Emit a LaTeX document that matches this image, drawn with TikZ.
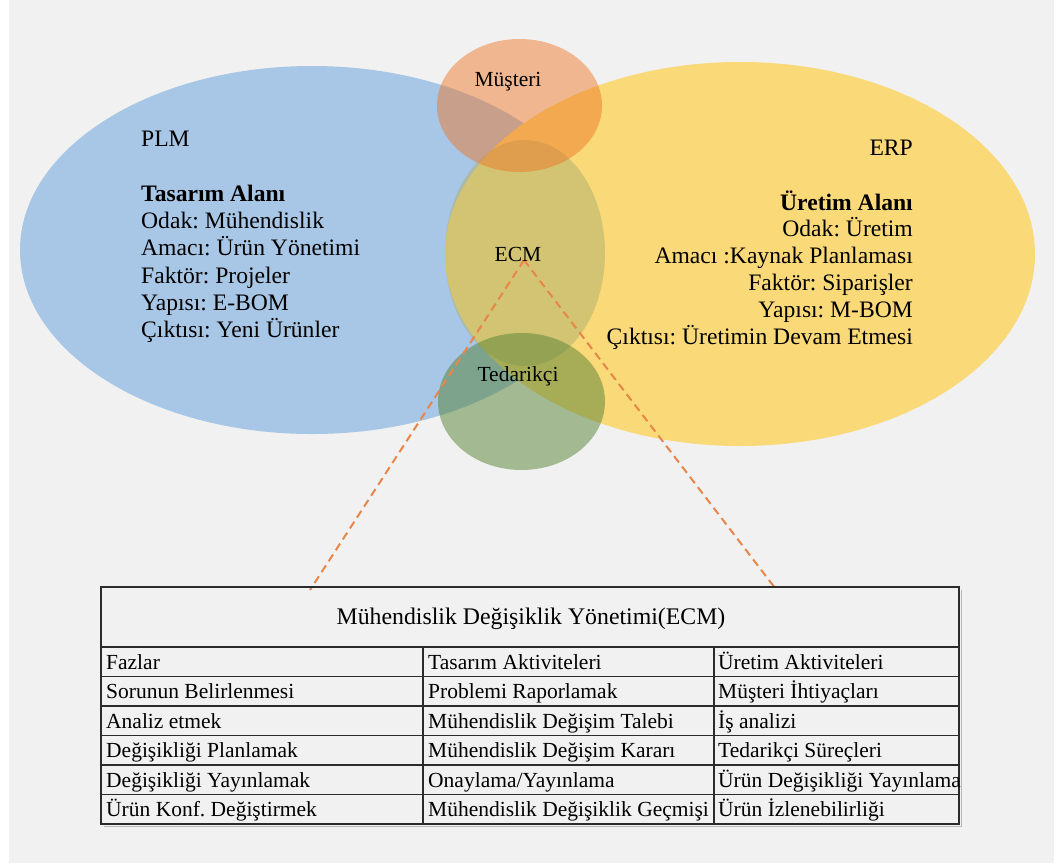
\documentclass[tikz,border=0pt]{standalone}
\usepackage{fontspec}
\setmainfont{Liberation Serif}
\usetikzlibrary{shapes.geometric}
\frenchspacing
\definecolor{pagegray}{HTML}{F1F1F1}
\definecolor{plmblue}{HTML}{A8C6E5}
\definecolor{erpyellow}{HTML}{F9D978}
\definecolor{ecmolive}{RGB}{175,177,111}
\definecolor{custorange}{RGB}{238,117,36}
\definecolor{suppgreen}{RGB}{84,130,53}
\definecolor{linkorange}{HTML}{E8864A}
\definecolor{gridline}{HTML}{2B2B2B}

\begin{document}
\begin{tikzpicture}[x=1pt,y=-1pt,
  venn/.style={ellipse, draw=none, inner sep=0pt, outer sep=0pt},
  areatext/.style={inner sep=0pt, font=\fontsize{23.6}{27}\selectfont},
  areabold/.style={inner sep=0pt, font=\fontsize{23.6}{27}\selectfont\bfseries},
  venntext/.style={inner sep=0pt, anchor=base, font=\fontsize{21.5}{26}\selectfont},
  celltext/.style={inner sep=0pt, anchor=base west, font=\fontsize{21.5}{26}\selectfont},
  titletext/.style={inner sep=0pt, anchor=base, font=\fontsize{23.8}{28}\selectfont},
  link/.style={draw=linkorange, line width=2pt, dash pattern=on 8pt off 5pt},
  rule/.style={draw=gridline, line width=1.3pt},
  frame/.style={draw=gridline, line width=1.7pt},
]
\useasboundingbox (0,0) rectangle (1057,865);
\fill[white] (0,0) rectangle (1057,865);
\fill[pagegray] (9,0) rectangle (1054,863);

% the five overlapping areas
\node[venn, fill=plmblue, minimum width=584pt, minimum height=368pt] (plm) at (312,250) {};
\node[venn, fill=erpyellow, minimum width=590pt, minimum height=384pt] (erp) at (740,254) {};
\node[venn, fill=ecmolive, fill opacity=0.5, minimum width=160pt, minimum height=226pt] (ecm) at (525,253) {};
\node[venn, fill=custorange, fill opacity=0.47, minimum width=165pt, minimum height=133pt] (cust) at (519.5,105.5) {};
\node[venn, fill=suppgreen, fill opacity=0.5, minimum width=167pt, minimum height=137pt] (supp) at (521.5,401.5) {};

% dashed lines from ECM down to the table
\coordinate (ecmtip) at (524,260);
\coordinate (tableft) at (310,590);
\coordinate (tabright) at (775,588);
\draw[link] (ecmtip) -- (tableft);
\draw[link] (ecmtip) -- (tabright);

% labels of the small areas
\node[venntext] (custlabel) at (508,86) {Müşteri};
\node[venntext] (ecmlabel) at (518,261.5) {ECM};
\node[venntext] (supplabel) at (518,381.5) {Tedarikçi};

% PLM description
\node[areatext, anchor=base west] (plm0) at (141,146.7) {PLM};
\node[areabold, anchor=base west] (plm1) at (141,201.3) {Tasarım Alanı};
\node[areatext, anchor=base west] (plm2) at (141,228.6) {Odak: Mühendislik};
\node[areatext, anchor=base west] (plm3) at (141,255.9) {Amacı: Ürün Yönetimi};
\node[areatext, anchor=base west] (plm4) at (141,283.2) {Faktör: Projeler};
\node[areatext, anchor=base west] (plm5) at (141,310.5) {Yapısı: E-BOM};
\node[areatext, anchor=base west] (plm6) at (141,337.8) {Çıktısı: Yeni Ürünler};

% ERP description
\node[areatext, anchor=base east] (erp0) at (913,155) {ERP};
\node[areabold, anchor=base east] (erp1) at (913,210) {Üretim Alanı};
\node[areatext, anchor=base east] (erp2) at (913,236.8) {Odak: Üretim};
\node[areatext, anchor=base east] (erp3) at (913,263.6) {Amacı :Kaynak Planlaması};
\node[areatext, anchor=base east] (erp4) at (913,290.4) {Faktör: Siparişler};
\node[areatext, anchor=base east] (erp5) at (913,317.2) {Yapısı: M-BOM};
\node[areatext, anchor=base east] (erp6) at (913,344) {Çıktısı: Üretimin Devam Etmesi};

% ECM table: shadow, frame and rules
\draw[gray!55, line width=1pt] (961,590) -- (961,826) -- (104,826);
\draw[frame] (101,587) rectangle (959,824);
\draw[rule] (101,647) -- (959,647);
\foreach \yy in {676.5,706,735.5,765,794.5}
  \draw[rule] (101,\yy) -- (959,\yy);
\draw[rule] (423,647) -- (423,824);
\draw[rule] (714,647) -- (714,824);

\node[titletext] (tabtitle) at (531,624.3) {Mühendislik Değişiklik Yönetimi(ECM)};

\node[celltext] (c00) at (106,669) {Fazlar};
\node[celltext] (c01) at (428,669) {Tasarım Aktiviteleri};
\node[celltext] (c02) at (718,669) {Üretim Aktiviteleri};
\node[celltext] (c10) at (106,698.5) {Sorunun Belirlenmesi};
\node[celltext] (c11) at (428,698.5) {Problemi Raporlamak};
\node[celltext] (c12) at (718,698.5) {Müşteri İhtiyaçları};
\node[celltext] (c20) at (106,728) {Analiz etmek};
\node[celltext] (c21) at (428,728) {Mühendislik Değişim Talebi};
\node[celltext] (c22) at (718,728) {İş analizi};
\node[celltext] (c30) at (106,757.5) {Değişikliği Planlamak};
\node[celltext] (c31) at (428,757.5) {Mühendislik Değişim Kararı};
\node[celltext] (c32) at (718,757.5) {Tedarikçi Süreçleri};
\node[celltext] (c40) at (106,787) {Değişikliği Yayınlamak};
\node[celltext] (c41) at (428,787) {Onaylama/Yayınlama};
\node[celltext] (c42) at (718,787) {Ürün Değişikliği Yayınlama};
\node[celltext] (c50) at (106,816.5) {Ürün Konf. Değiştirmek};
\node[celltext] (c51) at (428,816.5) {Mühendislik Değişiklik Geçmişi};
\node[celltext] (c52) at (718,816.5) {Ürün İzlenebilirliği};
\end{tikzpicture}
\end{document}
